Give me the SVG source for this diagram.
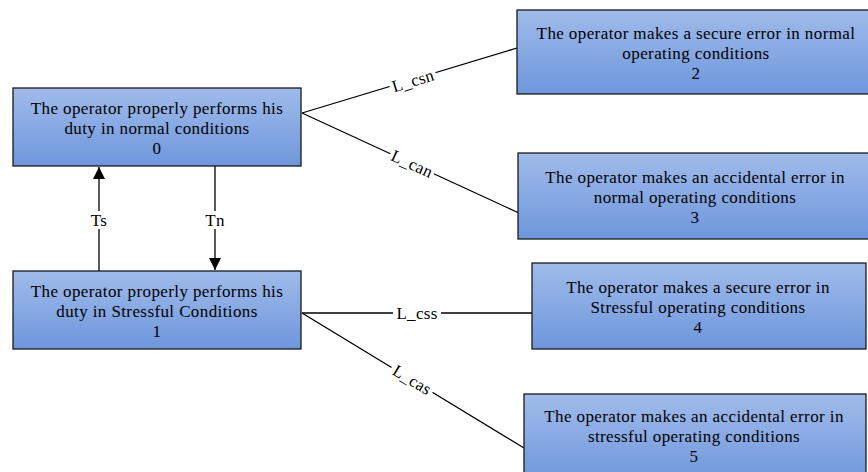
<svg xmlns="http://www.w3.org/2000/svg" width="868" height="472" viewBox="0 0 868 472">
<defs>
<linearGradient id="g" x1="0" y1="0" x2="0" y2="1">
<stop offset="0" stop-color="#a0bbea"/>
<stop offset="1" stop-color="#6e96dc"/>
</linearGradient>
<marker id="ah" viewBox="0 0 12 12" refX="12" refY="6" markerWidth="12" markerHeight="12" markerUnits="userSpaceOnUse" orient="auto">
<path d="M0,0 L12,6 L0,12 z" fill="#000"/>
</marker>
<style>
.box{fill:url(#g);stroke:#1a1a1a;stroke-width:1.3}
.t{font-family:"Liberation Serif","Times New Roman",serif;font-size:17px;letter-spacing:0.4px;fill:#000;text-anchor:middle}
.lbl{font-family:"Liberation Serif","Times New Roman",serif;font-size:17px;letter-spacing:0.3px;fill:#000;text-anchor:middle;dominant-baseline:central}
.ln{stroke:#000;stroke-width:1.3;fill:none}
.bg{fill:#fff}
</style>
</defs>
<g id="connectors">
<line class="ln" x1="302" y1="113" x2="517" y2="48"/>
<line class="ln" x1="302" y1="113" x2="519" y2="213"/>
<line class="ln" x1="302" y1="313" x2="532" y2="313"/>
<line class="ln" x1="302" y1="313" x2="524" y2="448"/>
<line class="ln" x1="99" y1="271" x2="99" y2="167" marker-end="url(#ah)" stroke-width="2"/>
<line class="ln" x1="215" y1="166" x2="215" y2="270" marker-end="url(#ah)" stroke-width="2"/>
<g transform="translate(413,81) rotate(-16.8)"><rect class="bg" x="-24" y="-8" width="48" height="16"/><text class="lbl" x="0" y="0">L_csn</text></g>
<g transform="translate(412,164) rotate(24.7)"><rect class="bg" x="-24" y="-8" width="48" height="16"/><text class="lbl" x="0" y="0">L_can</text></g>
<g transform="translate(417,313)"><rect class="bg" x="-24" y="-8" width="48" height="16"/><text class="lbl" x="0" y="0">L_css</text></g>
<g transform="translate(412,380) rotate(31.3)"><rect class="bg" x="-24" y="-8" width="48" height="16"/><text class="lbl" x="0" y="0">L_cas</text></g>
<rect class="bg" x="89" y="211" width="20" height="18"/><text class="lbl" x="99" y="220">Ts</text>
<rect class="bg" x="204" y="211" width="22" height="18"/><text class="lbl" x="215" y="220">Tn</text>
</g>
<g id="n0">
<rect class="box" x="13" y="88" width="288" height="78"/>
<text class="t" x="157" y="114">The operator properly performs his</text>
<text class="t" x="157" y="134">duty in normal conditions</text>
<text class="t" x="157" y="154">0</text>
</g>
<g id="n1">
<rect class="box" x="13" y="271" width="288" height="78"/>
<text class="t" x="157" y="297">The operator properly performs his</text>
<text class="t" x="157" y="317">duty in Stressful Conditions</text>
<text class="t" x="157" y="337">1</text>
</g>
<g id="n2">
<rect class="box" x="517" y="10" width="358" height="84"/>
<text class="t" x="696" y="39">The operator makes a secure error in normal</text>
<text class="t" x="696" y="59">operating conditions</text>
<text class="t" x="696" y="79">2</text>
</g>
<g id="n3">
<rect class="box" x="518" y="153" width="356" height="86"/>
<text class="t" x="695" y="183">The operator makes an accidental error in</text>
<text class="t" x="695" y="203">normal operating conditions</text>
<text class="t" x="695" y="223">3</text>
</g>
<g id="n4">
<rect class="box" x="532" y="263" width="334" height="86"/>
<text class="t" x="698" y="293">The operator makes a secure error in</text>
<text class="t" x="698" y="313">Stressful operating conditions</text>
<text class="t" x="698" y="333">4</text>
</g>
<g id="n5">
<rect class="box" x="524" y="394" width="342" height="90"/>
<text class="t" x="694" y="422">The operator makes an accidental error in</text>
<text class="t" x="694" y="442">stressful operating conditions</text>
<text class="t" x="694" y="462">5</text>
</g>
</svg>
